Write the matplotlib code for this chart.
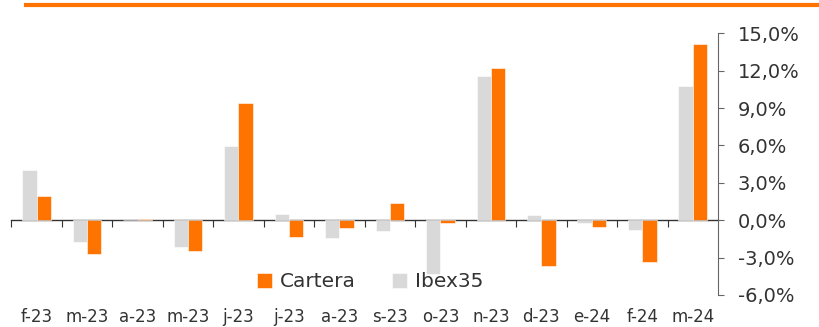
import matplotlib.pyplot as plt
import numpy as np
from matplotlib.lines import Line2D

months = ["f-23", "m-23", "a-23", "m-23", "j-23", "j-23", "a-23", "s-23",
          "o-23", "n-23", "d-23", "e-24", "f-24", "m-24"]
ibex35 = [4.02, -1.74, 0.05, -2.12, 5.97, 0.46, -1.42, -0.83,
          -4.34, 11.57, 0.40, -0.21, -0.78, 10.74]
cartera = [1.93, -2.68, 0.10, -2.49, 9.40, -1.34, -0.64, 1.37,
           -0.19, 12.24, -3.64, -0.54, -3.35, 14.17]
yticks = [-6, -3, 0, 3, 6, 9, 12, 15]

orange = "#FF7300"
grey = "#D9D9D9"
txt = "#333333"

fig = plt.figure(figsize=(8.19, 3.27), dpi=100)
ax = fig.add_axes([0.0138, 0.098, 0.863, 0.800])

x = np.arange(len(months))
w = 0.285
ax.bar(x - w / 2, ibex35, w, color=grey, label="Ibex35", edgecolor="white", linewidth=0.4)
ax.bar(x + w / 2, cartera, w, color=orange, label="Cartera", edgecolor="white", linewidth=0.4)

ax.set_xlim(-0.5, len(months) - 0.5)
ax.set_ylim(-6, 15)

# y axis on the right
for s in ["left", "top", "bottom"]:
    ax.spines[s].set_visible(False)
ax.spines["right"].set_color("#666666")
ax.yaxis.tick_right()
ax.set_yticks(yticks)
ax.set_yticklabels([f"{v:.1f}%".replace(".", ",") for v in yticks], fontsize=14, color=txt)
ax.tick_params(axis="y", length=4, color="#666666", pad=10)

# labels at the bottom, no ticks
ax.set_xticks(x)
ax.set_xticklabels(months, fontsize=12, color=txt)
ax.tick_params(axis="x", length=0, pad=9.5)

# zero line with boundary ticks
zero = 6 / 21
sec = ax.secondary_xaxis(zero)
sec.set_xticks(np.arange(len(months)) - 0.5)
sec.set_xticklabels([])
sec.tick_params(length=5, color="#333333", direction="out")
sec.spines["bottom"].set_color("#333333")
sec.spines["bottom"].set_linewidth(1.0)

h, l = ax.get_legend_handles_labels()
ax.legend(h[::-1], l[::-1], loc="center", bbox_to_anchor=(0.508, 0.05), ncol=2,
          frameon=False, fontsize=14.5, handlelength=0.75, handleheight=0.75,
          handletextpad=0.4, columnspacing=1.8, labelcolor=txt)

# orange rule at the top
fig.add_artist(Line2D([0.032, 1.0], [0.984, 0.984], color=orange, linewidth=3))

fig.savefig("out.png", dpi=100)
